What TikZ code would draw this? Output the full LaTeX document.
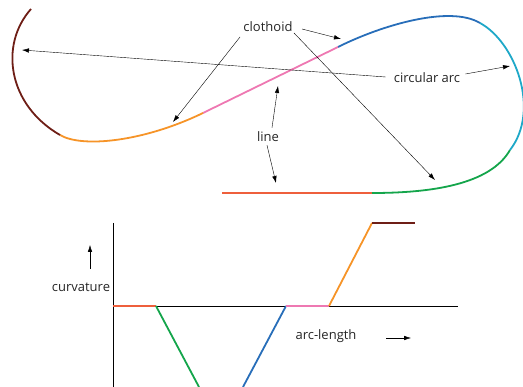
\documentclass[tikz,border=0pt]{standalone}
\usepackage{fontspec}
\setmainfont{Open Sans}
\usetikzlibrary{arrows.meta}

\definecolor{arcbrown}{RGB}{110,30,22}
\definecolor{clorange}{RGB}{246,148,40}
\definecolor{linepink}{RGB}{238,120,178}
\definecolor{clblue}{RGB}{40,110,185}
\definecolor{arccyan}{RGB}{30,168,200}
\definecolor{clgreen}{RGB}{20,165,75}
\definecolor{linered}{RGB}{238,95,60}

\begin{document}
\begin{tikzpicture}[x=1pt,y=-1pt,
    lbl/.style={font=\fontsize{13}{15}\selectfont, inner sep=1pt, text=black!85},
    pointer/.style={-{Latex[length=7pt,width=4.5pt]}, thin},
    seg/.style={line width=1.8pt}]
    \useasboundingbox (0,0) rectangle (523,387);

    % The curve: line, clothoid, arc, clothoid, line, clothoid, arc
    \draw[seg, color=linered] (222,193) -- (372,193);
    \draw[seg, color=clgreen] (372,193) .. controls (430,193) and (490,185) .. (510,150);
    \draw[seg, color=arccyan] (510,150) .. controls (541,110) and (515,42) .. (480,23);
    \draw[seg, color=clblue] (480,23) .. controls (450,5) and (382,25) .. (338,47);
    \draw[seg, color=linepink] (338,47) -- (203,113);
    \draw[seg, color=clorange] (203,113) .. controls (143,142) and (82,148) .. (60,135);
    \draw[seg, color=arcbrown] (60,135) .. controls (8,105) and (-1,45) .. (31,9);

    % Labels
    \node[lbl] (clothoid) at (268,27) {clothoid};
    \node[lbl] (circarc) at (427,78) {circular arc};
    \node[lbl] (line) at (268,137) {line};

    \coordinate (clo1) at (173,122);
    \coordinate (clo2) at (341,39);
    \coordinate (clo3) at (435,180);
    \coordinate (arc1) at (22,50);
    \coordinate (arc2) at (510,66);
    \coordinate (lin1) at (278,86);
    \coordinate (lin2) at (276,183);

    \draw[pointer] (240,37) -- (clo1);
    \draw[pointer] (302,29) -- (clo2);
    \draw[pointer] (294,33) -- (clo3);
    \draw[pointer] (circarc.west) ++(-7,-1) -- (arc1);
    \draw[pointer] (circarc.east) ++(4,-4) -- (arc2);
    \draw[pointer] (line.north) ++(4,-3) -- (lin1);
    \draw[pointer] (line.south) ++(-1,2) -- (lin2);

    % Curvature plot
    \draw[thin] (113,223) -- (113,387);
    \draw[thin] (113,306) -- (458,306);

    \draw[seg, color=linered] (113,306) -- (156,306);
    \draw[seg, color=clgreen] (156,306) -- (199,387);
    \draw[seg, color=clblue] (243,387) -- (286,306);
    \draw[seg, color=linepink] (286,306) -- (329,306);
    \draw[seg, color=clorange] (329,306) -- (372,223);
    \draw[seg, color=arcbrown] (372,223) -- (415,223);

    \node[lbl] (curv) at (81,287) {curvature};
    \node[lbl] (arclen) at (326,336) {arc-length};
    \coordinate (up0) at (90,269);
    \coordinate (up1) at (90,245);
    \coordinate (rt0) at (386,338);
    \coordinate (rt1) at (411,338);
    \draw[pointer] (up0) -- (up1);
    \draw[pointer] (rt0) -- (rt1);
\end{tikzpicture}
\end{document}
